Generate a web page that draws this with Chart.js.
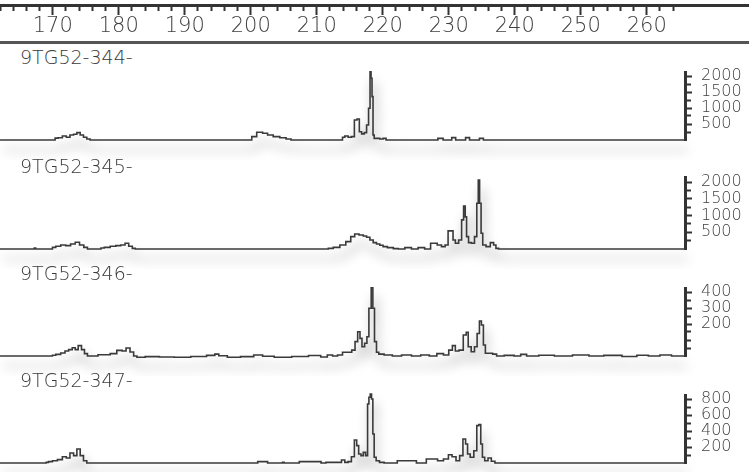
<!DOCTYPE html>
<html>
<head>
<meta charset="utf-8">
<script src="https://cdn.jsdelivr.net/npm/chart.js@4.4.1/dist/chart.umd.min.js"></script>
<style>
  html, body { margin: 0; padding: 0; background: #fff; }
  #wrap { position: relative; width: 749px; height: 472px; overflow: hidden; background: #fff; }
  #wrap canvas { position: absolute; left: 0; }
  .rule { position: absolute; left: 0; width: 749px; background: #555; }
  .name { position: absolute; left: 20px; font: 200 19px "DejaVu Sans", sans-serif; line-height: 22px; color: #3a3a3a; white-space: nowrap; }
</style>
</head>
<body>
<div id="wrap">
  <div class="rule" style="top:41px;height:3px"></div>
</div>
<script>
// Fragment size axis (bp) shared by the ruler and all traces
const AXIS_MIN = 162;
const PANEL_MAX = 265.8;
const RULER_MAX = 275.5;
const rulerLabels = [170, 180, 190, 200, 210, 220, 230, 240, 250, 260];

const panelNames = ['9TG52-344-', '9TG52-345-', '9TG52-346-', '9TG52-347-'];

// Intensity (RFU) axis per sample
const yMax = [2125, 2150, 425, 850];
const yTicks = [
  [250, 500, 750, 1000, 1250, 1500, 1750, 2000],
  [250, 500, 750, 1000, 1250, 1500, 1750, 2000],
  [50, 100, 150, 200, 250, 300, 350, 400],
  [100, 200, 300, 400, 500, 600, 700, 800]
];
const yLabels = [
  [500, 1000, 1500, 2000],
  [500, 1000, 1500, 2000],
  [200, 300, 400],
  [200, 400, 600, 800]
];

// Traces: [size in bp, intensity in RFU]
const trace344 = [
  [162, 0], [170.2, 0], [170.5, 60], [171.1, 70], [171.8, 125], [172.3, 85], [172.9, 155],
  [173.4, 180], [173.9, 230], [174.4, 155], [174.9, 85], [175.4, 30], [175.9, 0],
  [199.9, 0], [200.4, 105], [201.4, 240], [202.2, 210], [202.9, 155], [203.9, 105],
  [204.9, 70], [205.8, 30], [206.4, 0],
  [213.8, 0], [214.0, 85], [214.5, 125], [215.0, 85], [215.5, 105], [215.9, 625], [216.3, 655],
  [216.6, 260], [217.0, 190], [217.4, 230], [217.7, 470], [218.0, 990], [218.15, 2135],
  [218.3, 1930], [218.45, 1355], [218.6, 155], [218.8, 50], [219.3, 50], [219.8, 30],
  [220.3, 50], [220.7, 0],
  [228.2, 0], [228.5, 50], [229.0, 50], [229.3, 0], [230.3, 0], [230.6, 75], [230.9, 75], [231.2, 0],
  [232.4, 0], [232.7, 75], [233.0, 75], [233.3, 0], [234.5, 0], [234.8, 50], [235.1, 50], [235.4, 0],
  [265.8, 0]
];
const trace345 = [
  [162, 0], [167.1, 0], [167.3, 30], [167.5, 0], [169.8, 0], [170.1, 50], [170.8, 80],
  [171.6, 120], [172.3, 100], [173.1, 150], [173.7, 200], [174.4, 120], [175.0, 50], [175.5, 0],
  [177.2, 0], [177.4, 30], [178.2, 50], [179.2, 80], [179.9, 100], [180.7, 120], [181.2, 170],
  [181.8, 80], [182.3, 20], [182.7, 0],
  [211.5, 0], [212.0, 20], [213.0, 50], [214.0, 120], [214.8, 220], [215.5, 370], [216.0, 450],
  [216.8, 420], [217.3, 390], [217.8, 350], [218.3, 270], [218.8, 190], [219.3, 150],
  [219.8, 110], [220.3, 70], [221.1, 40], [222.1, 10], [222.6, 0],
  [224.1, 40], [224.6, 0], [226.1, 40], [226.6, 0], [227.9, 170], [228.6, 120], [229.2, 70],
  [229.7, 120], [230.1, 540], [230.5, 540], [230.8, 270], [231.2, 170], [231.8, 270],
  [232.1, 870], [232.4, 1285], [232.6, 960], [232.8, 370], [233.2, 190], [233.7, 170],
  [234.1, 370], [234.4, 1365], [234.55, 2060], [234.8, 1365], [235.0, 470], [235.3, 120],
  [236.0, 70], [236.6, 190], [237.0, 120], [237.3, 20], [237.8, 0], [265.8, 0]
];
const trace346 = [
  [162, 0], [169.8, 0], [170.1, 5], [170.8, 10], [171.6, 19], [172.1, 31], [172.7, 40],
  [173.2, 52], [173.6, 40], [174.1, 65], [174.6, 40], [175.0, 15], [175.5, 0],
  [178.2, 8], [179.2, 15], [180.2, 35], [180.8, 31], [181.4, 50], [182.0, 25], [182.5, 0],
  [183.0, -8], [185.0, -4], [187.3, -6], [189.5, -8], [192.3, -3], [194.3, 4], [194.8, 12],
  [195.5, 2], [197.4, -8], [199.5, -4], [201.4, 6], [202.2, -2], [204.9, -8], [207.5, -3],
  [210.0, 3], [211.2, -6], [212.0, 6], [212.8, 0], [213.5, 6], [214.3, 23], [215.0, 23],
  [215.6, 37], [216.0, 90], [216.4, 152], [216.7, 110], [217.0, 58], [217.5, 80], [217.7, 120],
  [218.1, 298], [218.4, 427], [218.6, 298], [218.9, 90], [219.2, 23], [219.6, 12], [220.8, 6],
  [222.1, 0], [223.6, 6], [225.1, 0], [226.4, 6], [227.7, 0], [228.7, 15], [229.7, 6],
  [230.3, 37], [230.8, 65], [231.2, 31], [231.9, 37], [232.5, 131], [232.8, 148], [233.1, 58],
  [233.7, 27], [234.1, 58], [234.5, 141], [234.8, 219], [235.1, 194], [235.4, 69], [235.7, 17],
  [236.3, 17], [237.0, 12], [237.5, 0], [239.3, 4], [240.5, 0], [241.3, 10], [242.3, 0],
  [245.0, 5], [247.0, 0], [250.5, 6], [252.0, 0], [255.0, 4], [257.5, -3], [259.5, 5],
  [261.0, 0], [263.0, 6], [264.5, 0], [265.8, 0]
];
const trace347 = [
  [162, 0], [168.9, 0], [169.1, 8], [169.6, 17], [170.3, 29], [171.1, 42], [171.8, 79],
  [172.3, 62], [172.9, 125], [173.4, 92], [173.9, 175], [174.4, 92], [174.9, 29], [175.4, 0],
  [200.9, 0], [201.2, 17], [202.4, 17], [202.7, 0], [204.7, 0], [204.9, 8], [205.2, 0],
  [209.5, 17], [210.5, 17], [210.8, 0], [212.0, 8], [213.5, 8], [214.0, 37], [214.5, 8],
  [215.0, 17], [215.5, 79], [215.9, 288], [216.2, 217], [216.5, 112], [216.9, 92], [217.2, 133],
  [217.6, 92], [217.8, 737], [218.0, 821], [218.2, 862], [218.4, 800], [218.6, 362], [218.8, 71],
  [219.2, 29], [219.8, 8], [220.6, 0], [223.8, 29], [224.9, 29], [225.3, 0],
  [227.9, 50], [228.7, 29], [229.7, 50], [230.2, 104], [230.8, 79], [231.4, 29], [231.9, 92],
  [232.4, 300], [232.7, 237], [233.0, 112], [233.5, 71], [234.1, 154], [234.4, 467],
  [234.7, 480], [235.0, 237], [235.2, 71], [235.7, 29], [236.2, 62], [236.7, 21], [237.3, 0],
  [265.8, 0]
];
const traces = [trace344, trace345, trace346, trace347];

// Vertical placement of each panel: top of its intensity axis and its baseline (px)
const PANEL_BOX = [
  { top: 72, base: 140 },
  { top: 177, base: 249 },
  { top: 288, base: 356 },
  { top: 395, base: 463 }
];

const INK = '#333';
const TEXT = '#404040';
const FONT = '"DejaVu Sans", sans-serif';

// Soft grey drop shadow under each trace
const haze = {
  id: 'haze',
  beforeDatasetsDraw(chart) {
    const c = chart.ctx;
    c.save();
    c.shadowColor = 'rgba(0,0,0,0.4)';
    c.shadowBlur = 12;
    c.shadowOffsetX = 3;
    c.shadowOffsetY = 10;
  },
  afterDatasetsDraw(chart) {
    chart.ctx.restore();
  }
};

const wrap = document.getElementById('wrap');

function addCanvas(top, height) {
  const cv = document.createElement('canvas');
  cv.width = 749;
  cv.height = height;
  cv.style.top = top + 'px';
  cv.style.width = '749px';
  cv.style.height = height + 'px';
  wrap.appendChild(cv);
  return cv;
}

// Size ruler across the top
const rulerTicks = [];
for (let v = AXIS_MIN; v <= 264; v += 2) rulerTicks.push(v);

new Chart(addCanvas(-20, 66), {
  type: 'line',
  data: { datasets: [] },
  options: {
    responsive: false,
    animation: false,
    events: [],
    layout: { padding: { top: 20, left: 0, right: 0, bottom: 0 } },
    plugins: { legend: { display: false }, tooltip: { enabled: false } },
    scales: {
      x: {
        type: 'linear',
        position: 'bottom',
        min: AXIS_MIN,
        max: RULER_MAX,
        afterBuildTicks: s => { s.ticks = rulerTicks.map(v => ({ value: v })); },
        afterFit: s => { s.height = 41; },
        grid: {
          drawOnChartArea: false,
          tickLength: 10,
          tickWidth: 2,
          tickColor: INK,
          tickBorderDash: c => (c.tick && rulerLabels.includes(c.tick.value)) ? [] : [4, 20]
        },
        border: { display: true, width: 3, color: INK },
        ticks: {
          autoSkip: false,
          maxRotation: 0,
          padding: -1,
          color: TEXT,
          font: { family: FONT, weight: '200', size: 21, lineHeight: 1.2 },
          callback: v => rulerLabels.includes(v) ? String(v) : ''
        }
      },
      y: { display: false }
    }
  }
});

// One panel per sample
traces.forEach((trace, i) => {
  const box = PANEL_BOX[i];
  const labelSet = new Set(yLabels[i]);

  const name = document.createElement('div');
  name.className = 'name';
  name.textContent = panelNames[i];
  name.style.top = (box.base - 94) + 'px';
  wrap.appendChild(name);

  new Chart(addCanvas(box.top - 20, box.base - box.top + 40), {
    type: 'line',
    data: {
      datasets: [{
        data: trace.map(([x, y]) => ({ x, y })),
        borderColor: '#3a3a3a',
        borderWidth: 1.6,
        pointRadius: 0,
        stepped: 'middle',
        fill: false,
        clip: false
      }]
    },
    options: {
      responsive: false,
      animation: false,
      events: [],
      layout: { padding: { top: 20, bottom: 20, left: 0, right: 0 } },
      plugins: { legend: { display: false }, tooltip: { enabled: false } },
      scales: {
        x: { type: 'linear', min: AXIS_MIN, max: PANEL_MAX, display: false },
        y: {
          position: 'right',
          min: 0,
          max: yMax[i],
          afterBuildTicks: s => { s.ticks = yTicks[i].map(v => ({ value: v })); },
          afterFit: s => { s.width = 64; },
          grid: {
            drawOnChartArea: false,
            tickLength: 7,
            tickWidth: 2,
            tickColor: INK,
            tickBorderDash: c => (c.tick && labelSet.has(c.tick.value)) ? [] : [4, 20]
          },
          border: { display: true, width: 3, color: INK },
          ticks: {
            autoSkip: false,
            padding: 9,
            color: TEXT,
            font: { family: FONT, weight: '200', size: 16, lineHeight: 1.2 },
            callback: v => labelSet.has(v) ? String(v) : ''
          }
        }
      }
    },
    plugins: [haze]
  });
});
</script>
</body>
</html>
